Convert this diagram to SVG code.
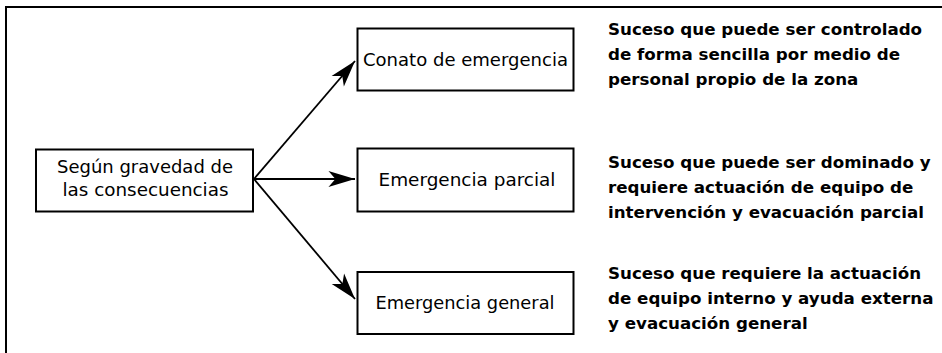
<svg xmlns="http://www.w3.org/2000/svg" width="942" height="353" viewBox="0 0 942 353">
<style>
.box{fill:#fff;stroke:#000;stroke-width:2}
.bt{font-family:"DejaVu Sans",sans-serif;font-size:18.5px;fill:#000;text-anchor:middle}
.rt{font-family:"DejaVu Sans",sans-serif;font-weight:bold;font-size:16.7px;fill:#000}
.ln{stroke:#000;stroke-width:1.8;fill:none}
</style>
<defs>
<marker id="ah" markerUnits="userSpaceOnUse" markerWidth="30" markerHeight="20" viewBox="-24 -8 26 16" refX="0" refY="0" orient="auto">
<path d="M0,0 L-23,-7 L-17,0 L-23,7 Z" fill="#000"/>
</marker>
</defs>
<g id="frame">
<path d="M6,353 V7 H942" stroke="#000" stroke-width="2" fill="none"/>
</g>
<g id="connectors">
<line class="ln" x1="254" y1="179" x2="355" y2="61" marker-end="url(#ah)"/>
<line class="ln" x1="254" y1="179" x2="355" y2="179" marker-end="url(#ah)"/>
<line class="ln" x1="254" y1="179" x2="355" y2="299" marker-end="url(#ah)"/>
</g>
<g id="node-origen">
<rect class="box" x="36" y="149.5" width="217" height="62"/>
<text class="bt" x="145" y="173" textLength="176" lengthAdjust="spacingAndGlyphs">Según gravedad de</text>
<text class="bt" x="145.5" y="195.5" textLength="166" lengthAdjust="spacingAndGlyphs">las consecuencias</text>
</g>
<g id="node-conato">
<rect class="box" x="357.5" y="28.5" width="216" height="62"/>
<text class="bt" x="465.5" y="65.5" textLength="205" lengthAdjust="spacingAndGlyphs">Conato de emergencia</text>
</g>
<g id="node-parcial">
<rect class="box" x="357.5" y="148.5" width="216" height="63"/>
<text class="bt" x="467" y="186" textLength="177" lengthAdjust="spacingAndGlyphs">Emergencia parcial</text>
</g>
<g id="node-general">
<rect class="box" x="357.5" y="272" width="216" height="62"/>
<text class="bt" x="465" y="309" textLength="179" lengthAdjust="spacingAndGlyphs">Emergencia general</text>
</g>
<g id="desc-conato">
<text class="rt" x="608" y="35">Suceso que puede ser controlado</text>
<text class="rt" x="608" y="60">de forma sencilla por medio de</text>
<text class="rt" x="608" y="85">personal propio de la zona</text>
</g>
<g id="desc-parcial">
<text class="rt" x="608" y="168">Suceso que puede ser dominado y</text>
<text class="rt" x="608" y="193">requiere actuación de equipo de</text>
<text class="rt" x="608" y="218">intervención y evacuación parcial</text>
</g>
<g id="desc-general">
<text class="rt" x="608" y="279">Suceso que requiere la actuación</text>
<text class="rt" x="608" y="304">de equipo interno y ayuda externa</text>
<text class="rt" x="608" y="329">y evacuación general</text>
</g>
</svg>
